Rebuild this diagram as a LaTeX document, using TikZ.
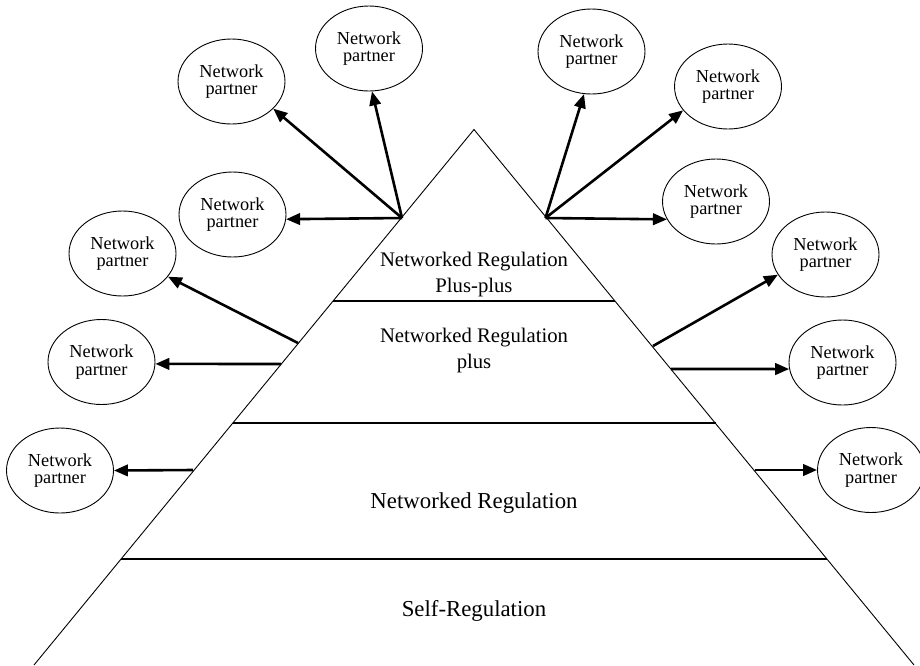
\documentclass[tikz,border=0pt]{standalone}
\usepackage{fontspec}
\setmainfont{Liberation Serif}
\usetikzlibrary{arrows.meta,shapes.geometric}
\tikzset{
  partner/.style={draw, ellipse, line width=0.9pt, minimum width=107pt, minimum height=85pt, inner sep=0pt, align=center,
    font=\fontsize{18.3}{17.5}\selectfont},
  pyr/.style={line width=0.9pt},
  divider/.style={line width=1.3pt},
  link/.style={line width=2.6pt, -{Triangle[length=14pt,width=11.5pt]}},
  layertxt/.style={align=center, inner sep=0pt, font=\fontsize{20.7}{26}\selectfont},
  layertxtbig/.style={align=center, inner sep=0pt, font=\fontsize{22.8}{28}\selectfont}
}
\begin{document}
\begin{tikzpicture}[x=1pt,y=-1pt]
\useasboundingbox[fill=white] (0,0) rectangle (920,665);
% pyramid
\coordinate (A) at (474,129.5);
\coordinate (BL) at (34,665);
\coordinate (BR) at (914,665);
\draw[pyr] (BL) -- (A) -- (BR);
\coordinate (d1l) at (333,301); \coordinate (d1r) at (615,301);
\coordinate (d2l) at (232.5,423); \coordinate (d2r) at (715.5,423);
\coordinate (d3l) at (121,559); \coordinate (d3r) at (827,559);
\draw[divider] (d1l) -- (d1r);
\draw[divider] (d2l) -- (d2r);
\draw[divider] (d3l) -- (d3r);
% layer texts
\node[layertxt] (t1) at (474,275) {Networked Regulation\\Plus-plus};
\node[layertxt] (t2) at (474,351) {Networked Regulation\\plus};
\node[layertxtbig] (t3) at (474,503.5) {Networked Regulation};
\node[layertxtbig] (t4) at (474,610.5) {Self-Regulation};
% partners
\node[partner] (e1) at (231.5,81.5) {Network\\partner};
\node[partner] (e2) at (369,48.5) {Network\\partner};
\node[partner] (e3) at (232.5,214.5) {Network\\partner};
\node[partner] (e4) at (591.5,51.5) {Network\\partner};
\node[partner] (e5) at (728,86.5) {Network\\partner};
\node[partner] (e6) at (716,201.5) {Network\\partner};
\node[partner] (e7) at (122.5,253.5) {Network\\partner};
\node[partner] (e8) at (101.5,362) {Network\\partner};
\node[partner] (e9) at (60,470.5) {Network\\partner};
\node[partner] (e10) at (825.5,254.5) {Network\\partner};
\node[partner] (e11) at (842.5,362.5) {Network\\partner};
\node[partner] (e12) at (871,470) {Network\\partner};
% origins on pyramid sides
\coordinate (oL) at (402,218);
\coordinate (oR) at (545.5,218);
\coordinate (oL7) at (298,343);
\coordinate (oL8) at (281,364);
\coordinate (oL9) at (193,470);
\coordinate (oR10) at (653,346);
\coordinate (oR11) at (671,369);
\coordinate (oR12) at (754.5,470);
% links
\draw[link] (oL) -- (e1.-33);
\draw[link] (oL) -- (e2.-86);
\draw[link] (oL) -- (e3.-5);
\draw[link] (oR) -- (e4.-100);
\draw[link] (oR) -- (e5.-152);
\draw[link] (oR) -- (e6.-160);
\draw[link] (oL7) -- (e7.-27);
\draw[link] (oL8) -- (e8.-2);
\draw[link] (oL9) -- (e9.0);
\draw[link] (oR10) -- (e10.-157);
\draw[link] (oR11) -- (e11.-173);
\draw[link] (oR12) -- (e12.180);
\end{tikzpicture}
\end{document}
